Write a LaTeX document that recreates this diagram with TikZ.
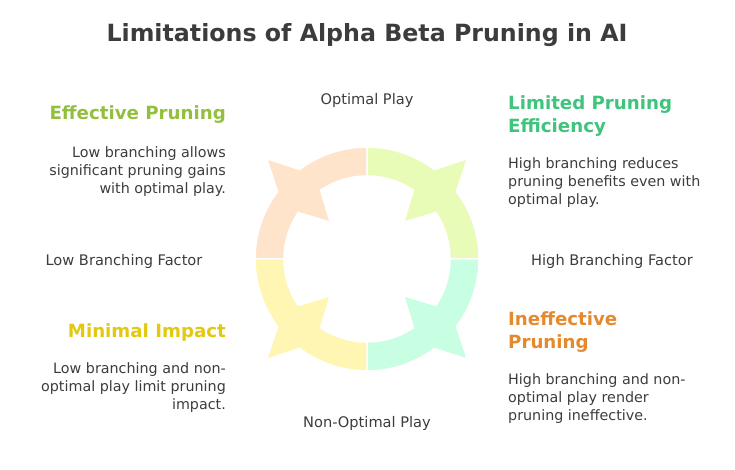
\documentclass[tikz,border=0pt]{standalone}
\usepackage{fontspec}
\setmainfont{DejaVu Sans}
\usetikzlibrary{positioning}
\definecolor{inkgray}{RGB}{60,60,60}
\definecolor{peachfill}{RGB}{255,228,204}
\definecolor{limefill}{RGB}{232,252,184}
\definecolor{mintfill}{RGB}{200,254,226}
\definecolor{lemonfill}{RGB}{255,246,180}
\definecolor{effgreen}{RGB}{146,192,62}
\definecolor{limgreen}{RGB}{62,196,124}
\definecolor{minyellow}{RGB}{226,200,16}
\definecolor{ineforange}{RGB}{229,137,47}

\begin{document}
\begin{tikzpicture}[
    x=1pt, y=1pt,
    title/.style={font=\fontsize{23.7}{28}\selectfont\bfseries, text=inkgray, inner sep=0},
    axislabel/.style={font=\fontsize{14.6}{17}\selectfont, text=inkgray, inner sep=0},
    heading/.style={font=\fontsize{18.2}{23}\selectfont\bfseries, inner sep=0},
    bodytext/.style={font=\fontsize{14.3}{18}\selectfont, text=inkgray, inner sep=0},
    quarter/.style={draw=white, line width=1.5pt, line join=miter}
]
\useasboundingbox (0,0) rectangle (735,470);

% Title
\node[title] (title) at (367,435) {Limitations of Alpha Beta Pruning in AI};

% Ring of four arrows
\begin{scope}[shift={(367,211)}]
\foreach \a/\col in {90/peachfill, 0/limefill, 270/mintfill, 180/lemonfill} {
    \pgfmathsetmacro{\m}{\a+45}
    \fill[\col, quarter] (\a:112) arc[start angle=\a, end angle=\m-8, radius=112]
        -- (\m:142) -- (\m+8:112)
        arc[start angle=\m+8, end angle=\a+90, radius=112]
        -- (\a+90:83)
        arc[start angle=\a+90, end angle=\m+11, radius=83]
        -- (\m:52) -- (\m-11:83)
        arc[start angle=\m-11, end angle=\a, radius=83] -- cycle;
}
\end{scope}

% Axis labels
\node[axislabel] (optimal) at (367,370) {Optimal Play};
\node[axislabel] (nonoptimal) at (367,47) {Non-Optimal Play};
\node[axislabel] (lowbf) at (124,209) {Low Branching Factor};
\node[axislabel] (highbf) at (612,209) {High Branching Factor};

% Quadrant texts
\node[heading, text=effgreen, anchor=east] (effhead) at (226,355) {Effective Pruning};
\node[bodytext, anchor=east, align=right] (effbody) at (226,298) {Low branching allows\\significant pruning gains\\with optimal play.};

\node[heading, text=limgreen, anchor=west, align=left] (limhead) at (508,354) {Limited Pruning\\Efficiency};
\node[bodytext, anchor=west, align=left] (limbody) at (508,287) {High branching reduces\\pruning benefits even with\\optimal play.};

\node[heading, text=minyellow, anchor=east] (minhead) at (226,138) {Minimal Impact};
\node[bodytext, anchor=east, align=right] (minbody) at (226,82) {Low branching and non-\\optimal play limit pruning\\impact.};

\node[heading, text=ineforange, anchor=west, align=left] (inefhead) at (508,138) {Ineffective\\Pruning};
\node[bodytext, anchor=west, align=left] (inefbody) at (508,71) {High branching and non-\\optimal play render\\pruning ineffective.};

\end{tikzpicture}
\end{document}
